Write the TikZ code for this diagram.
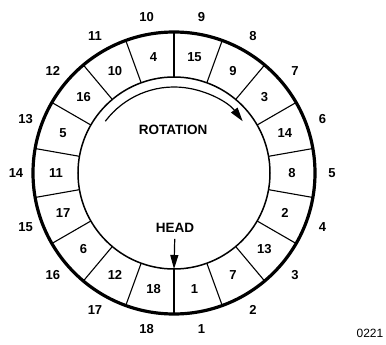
\documentclass[tikz,border=0pt]{standalone}
\usepackage{fontspec}
\setsansfont{Liberation Sans}
\usetikzlibrary{arrows.meta,positioning}
\definecolor{ink}{HTML}{000000}
\tikzset{
  rim/.style={draw=ink,line width=3.2pt},
  hub/.style={draw=ink,line width=1.5pt},
  spoke/.style={draw=ink,line width=1.1pt},
  num/.style={font=\sffamily\bfseries\fontsize{13}{13}\selectfont,text=ink,inner sep=0pt},
  caption/.style={font=\sffamily\bfseries\fontsize{13.5}{13.5}\selectfont,text=ink,inner sep=1pt},
  tag/.style={font=\sffamily\fontsize{12}{12}\selectfont,text=ink,inner sep=0pt},
  ar/.style={-{Triangle[length=14pt,width=8pt]},draw=ink,line width=1.2pt},
}
\begin{document}
\begin{tikzpicture}[x=1pt,y=1pt]
\useasboundingbox (-174,-172) rectangle (212,173);
% sectors: divider, slot number, position number
\draw[spoke] (270:96) -- (270:141);
\node[num] (sec1) at (280:118) {1};
\node[num] (pos1) at (280:158) {1};
\draw[spoke] (290:96) -- (290:141);
\node[num] (sec2) at (300:118) {7};
\node[num] (pos2) at (300:158) {2};
\draw[spoke] (310:96) -- (310:141);
\node[num] (sec3) at (320:118) {13};
\node[num] (pos3) at (320:158) {3};
\draw[spoke] (330:96) -- (330:141);
\node[num] (sec4) at (340:118) {2};
\node[num] (pos4) at (340:158) {4};
\draw[spoke] (350:96) -- (350:141);
\node[num] (sec5) at (0:118) {8};
\node[num] (pos5) at (0:158) {5};
\draw[spoke] (10:96) -- (10:141);
\node[num] (sec6) at (20:118) {14};
\node[num] (pos6) at (20:158) {6};
\draw[spoke] (30:96) -- (30:141);
\node[num] (sec7) at (40:118) {3};
\node[num] (pos7) at (40:158) {7};
\draw[spoke] (50:96) -- (50:141);
\node[num] (sec8) at (60:118) {9};
\node[num] (pos8) at (60:158) {8};
\draw[spoke] (70:96) -- (70:141);
\node[num] (sec9) at (80:118) {15};
\node[num] (pos9) at (80:158) {9};
\draw[spoke] (90:96) -- (90:141);
\node[num] (sec10) at (100:118) {4};
\node[num] (pos10) at (100:158) {10};
\draw[spoke] (110:96) -- (110:141);
\node[num] (sec11) at (120:118) {10};
\node[num] (pos11) at (120:158) {11};
\draw[spoke] (130:96) -- (130:141);
\node[num] (sec12) at (140:118) {16};
\node[num] (pos12) at (140:158) {12};
\draw[spoke] (150:96) -- (150:141);
\node[num] (sec13) at (160:118) {5};
\node[num] (pos13) at (160:158) {13};
\draw[spoke] (170:96) -- (170:141);
\node[num] (sec14) at (180:118) {11};
\node[num] (pos14) at (180:158) {14};
\draw[spoke] (190:96) -- (190:141);
\node[num] (sec15) at (200:118) {17};
\node[num] (pos15) at (200:158) {15};
\draw[spoke] (210:96) -- (210:141);
\node[num] (sec16) at (220:118) {6};
\node[num] (pos16) at (220:158) {16};
\draw[spoke] (230:96) -- (230:141);
\node[num] (sec17) at (240:118) {12};
\node[num] (pos17) at (240:158) {17};
\draw[spoke] (250:96) -- (250:141);
\node[num] (sec18) at (260:118) {18};
\node[num] (pos18) at (260:158) {18};
\draw[hub] (0,0) circle[radius=96];
\draw[rim] (0,0) circle[radius=141];
% rotation sense
\node[caption] (rotation) at (-1,43) {ROTATION};
\coordinate (rotfrom) at (143:86);
\draw[ar] (rotfrom) arc[start angle=143,end angle=37,radius=86];
% read head
\node[caption] (head) at (1,-55) {HEAD};
\coordinate (headpt) at (270:96);
\draw[ar,shorten <=5pt] (head) -- (headpt);
\node[tag] (fig) at (196,-160) {0221};
\end{tikzpicture}
\end{document}
